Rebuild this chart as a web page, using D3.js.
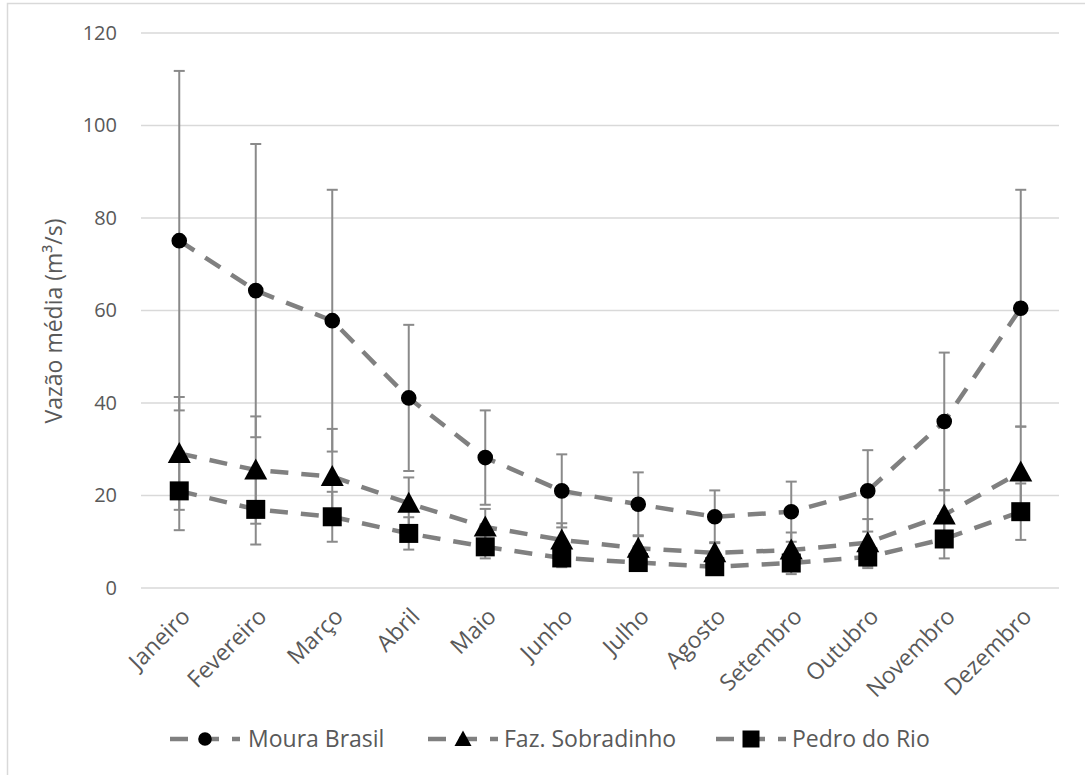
<!DOCTYPE html>
<html>
<head>
<meta charset="utf-8">
<script src="https://cdn.jsdelivr.net/npm/d3@7"></script>
<style>
  html, body { margin: 0; padding: 0; background: #fff; }
  svg { display: block; }
  text { font-family: "Open Sans", "Noto Sans", sans-serif; fill: #595959; }
</style>
</head>
<body>
<svg id="chart" width="1085" height="775"></svg>
<script>
// Monthly mean discharge (m³/s) with standard deviation, three gauging stations
const months = ["Janeiro", "Fevereiro", "Março", "Abril", "Maio", "Junho",
                "Julho", "Agosto", "Setembro", "Outubro", "Novembro", "Dezembro"];

const mouraBrasil   = [75.1, 64.3, 57.8, 41.1, 28.2, 21.0, 18.1, 15.4, 16.5, 21.0, 36.0, 60.5];
const mouraBrasilSd = [36.7, 31.7, 28.3, 15.8, 10.2, 7.9, 6.9, 5.7, 6.5, 8.8, 14.9, 25.6];

const fazSobradinho   = [29.1, 25.5, 24.1, 18.3, 13.2, 10.4, 8.6, 7.6, 8.2, 9.8, 15.8, 25.1];
const fazSobradinhoSd = [12.2, 11.6, 10.3, 5.6, 3.9, 3.6, 2.8, 2.3, 3.8, 5.1, 5.4, 9.8];

const pedroDoRio   = [21.0, 17.0, 15.4, 11.8, 8.9, 6.5, 5.5, 4.6, 5.4, 6.7, 10.6, 16.5];
const pedroDoRioSd = [8.5, 7.6, 5.4, 3.5, 2.5, 2.0, 1.2, 1.2, 2.4, 2.4, 4.2, 6.1];

const seriesNames = ["Moura Brasil", "Faz. Sobradinho", "Pedro do Rio"];
const yTicks = [0, 20, 40, 60, 80, 100, 120];
const yTitle = "Vazão média (m³/s)";

const series = [
  { name: seriesNames[0], mean: mouraBrasil,   sd: mouraBrasilSd,   symbol: "circle" },
  { name: seriesNames[1], mean: fazSobradinho, sd: fazSobradinhoSd, symbol: "triangle" },
  { name: seriesNames[2], mean: pedroDoRio,    sd: pedroDoRioSd,    symbol: "square" }
];

const svg = d3.select("#chart");

// outer chart frame
svg.append("rect")
  .attr("x", 7.5).attr("y", 3.5)
  .attr("width", 1200).attr("height", 900)
  .attr("fill", "none").attr("stroke", "#d9d9d9").attr("stroke-width", 1.5);

const plot = { left: 141, right: 1059, top: 33, bottom: 588 };

const x = d3.scalePoint().domain(months).range([plot.left, plot.right]).padding(0.5);
const y = d3.scaleLinear().domain([0, 120]).range([plot.bottom, plot.top]);

// horizontal gridlines
svg.append("g").selectAll("line").data(yTicks).join("line")
  .attr("x1", plot.left).attr("x2", plot.right)
  .attr("y1", d => y(d)).attr("y2", d => y(d))
  .attr("stroke", "#d9d9d9").attr("stroke-width", 1.5);

// y axis tick labels
const yAxis = d3.axisLeft(y).tickValues(yTicks).tickSize(0).tickPadding(0);
const gy = svg.append("g").attr("transform", `translate(117,0)`).call(yAxis);
gy.select(".domain").remove();
gy.selectAll("text")
  .attr("font-size", 20).attr("fill", "#595959")
  .style("font-family", '"Open Sans", sans-serif');

// y axis title
svg.append("text")
  .attr("transform", `translate(62,321) rotate(-90)`)
  .attr("text-anchor", "middle")
  .attr("font-size", 23)
  .text(yTitle);

// x axis category labels, rotated
const xAxis = d3.axisBottom(x).tickSize(0).tickPadding(0);
const gx = svg.append("g").attr("transform", `translate(0,${plot.bottom})`).call(xAxis);
gx.select(".domain").remove();
gx.selectAll(".tick text")
  .attr("font-size", 23)
  .attr("fill", "#595959")
  .style("font-family", '"Open Sans", sans-serif')
  .attr("text-anchor", "end")
  .attr("dy", "0.3em")
  .attr("y", 0)
  .attr("transform", "translate(7,25) rotate(-45)");

// symbol generators
const symbolPath = {
  circle: d3.symbol().type(d3.symbolCircle).size(Math.PI * 7.8 * 7.8)(),
  triangle: "M0,-11.5L11.5,9.5L-11.5,9.5Z",
  square: "M-9.5,-9.5H9.5V9.5H-9.5Z"
};
const legendSymbolPath = {
  circle: d3.symbol().type(d3.symbolCircle).size(Math.PI * 6.8 * 6.8)(),
  triangle: "M0,-8.5L8.5,7L-8.5,7Z",
  square: "M-8.5,-8.5H8.5V8.5H-8.5Z"
};

const lineColor = "#808080";
const errColor = "#8a8a8a";
const dash = "18 13";

// error bars (mean ± sd)
const gErr = svg.append("g");
series.forEach(s => {
  const pts = months.map((m, i) => ({ m, lo: s.mean[i] - s.sd[i], hi: s.mean[i] + s.sd[i] }));
  const g = gErr.append("g");
  g.selectAll("line.stem").data(pts).join("line")
    .attr("x1", d => x(d.m)).attr("x2", d => x(d.m))
    .attr("y1", d => y(d.lo)).attr("y2", d => y(d.hi))
    .attr("stroke", errColor).attr("stroke-width", 2);
  ["lo", "hi"].forEach(k => {
    g.selectAll("line.cap-" + k).data(pts).join("line")
      .attr("x1", d => x(d.m) - 5.5).attr("x2", d => x(d.m) + 5.5)
      .attr("y1", d => y(d[k])).attr("y2", d => y(d[k]))
      .attr("stroke", errColor).attr("stroke-width", 2);
  });
});

// dashed series lines
const line = d3.line().x((d, i) => x(months[i])).y(d => y(d));
svg.append("g").selectAll("path").data(series).join("path")
  .attr("d", s => line(s.mean))
  .attr("fill", "none")
  .attr("stroke", lineColor)
  .attr("stroke-width", 4.5)
  .attr("stroke-dasharray", dash);

// markers
series.forEach(s => {
  svg.append("g").selectAll("path").data(s.mean).join("path")
    .attr("d", symbolPath[s.symbol])
    .attr("transform", (d, i) => `translate(${x(months[i])},${y(d)})`)
    .attr("fill", "#000");
});

// legend
const legendItems = [
  { x1: 170, x2: 240, tx: 248 },
  { x1: 428, x2: 498, tx: 504 },
  { x1: 716, x2: 786, tx: 792 }
];
const legendY = 739;
const gl = svg.append("g");
series.forEach((s, i) => {
  const it = legendItems[i];
  gl.append("line")
    .attr("x1", it.x1).attr("x2", it.x2)
    .attr("y1", legendY).attr("y2", legendY)
    .attr("stroke", lineColor).attr("stroke-width", 4.5)
    .attr("stroke-dasharray", dash);
  gl.append("path")
    .attr("d", legendSymbolPath[s.symbol])
    .attr("transform", `translate(${(it.x1 + it.x2) / 2},${legendY})`)
    .attr("fill", "#000");
  gl.append("text")
    .attr("x", it.tx).attr("y", legendY + 8)
    .attr("font-size", 23)
    .text(s.name);
});
</script>
</body>
</html>
